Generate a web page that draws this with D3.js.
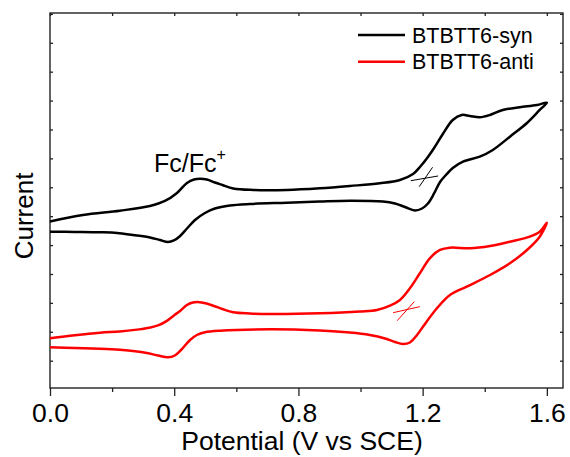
<!DOCTYPE html>
<html>
<head>
<meta charset="utf-8">
<script src="https://cdn.jsdelivr.net/npm/d3@7/dist/d3.min.js"></script>
<style>
  html, body { margin: 0; padding: 0; background: #fff; }
  svg { display: block; font-family: Arial, "Liberation Sans", sans-serif; }
</style>
</head>
<body>
<svg id="chart" width="570" height="457"></svg>
<script>
// Cyclic voltammograms: forward scan 0 -> 1.6 V, then reverse back to 0 V.
// Potential in V vs SCE, current in arbitrary (offset) units.
const synPotential = [0.000, 0.106, 0.225, 0.322, 0.370, 0.409, 0.441, 0.464, 0.483, 0.505, 0.531, 0.555, 0.590, 0.654, 0.763, 0.869, 0.966, 1.062, 1.127, 1.169, 1.194, 1.217, 1.239, 1.265, 1.297, 1.326, 1.352, 1.384, 1.417, 1.458, 1.513, 1.568, 1.600,
  1.577, 1.536, 1.481, 1.426, 1.384, 1.330, 1.297, 1.275, 1.256, 1.236, 1.217, 1.198, 1.175, 1.143, 1.111, 1.072, 0.966, 0.869, 0.763, 0.644, 0.579, 0.531, 0.499, 0.467, 0.441, 0.419, 0.399, 0.380, 0.354, 0.322, 0.267, 0.216, 0.161, 0.080, 0.000];
const synCurrent = [4.817, 5.042, 5.190, 5.353, 5.526, 5.803, 6.149, 6.270, 6.294, 6.270, 6.166, 6.080, 5.958, 5.907, 5.907, 5.965, 6.045, 6.138, 6.253, 6.460, 6.737, 7.048, 7.394, 7.844, 8.329, 8.502, 8.467, 8.422, 8.502, 8.675, 8.768, 8.848, 8.927,
  8.675, 8.225, 7.751, 7.291, 7.059, 6.886, 6.668, 6.426, 6.183, 5.768, 5.439, 5.266, 5.197, 5.318, 5.439, 5.509, 5.536, 5.509, 5.467, 5.422, 5.370, 5.266, 5.111, 4.869, 4.574, 4.315, 4.159, 4.107, 4.176, 4.263, 4.349, 4.419, 4.443, 4.455, 4.464];

const antiPotential = [0.000, 0.080, 0.161, 0.225, 0.280, 0.320, 0.350, 0.375, 0.400, 0.419, 0.441, 0.460, 0.474, 0.493, 0.526, 0.555, 0.590, 0.644, 0.708, 0.869, 0.998, 1.053, 1.095, 1.127, 1.159, 1.191, 1.223, 1.256, 1.288, 1.352, 1.417, 1.481, 1.545, 1.577, 1.600,
  1.577, 1.536, 1.481, 1.417, 1.342, 1.288, 1.246, 1.201, 1.182, 1.159, 1.136, 1.111, 1.079, 1.030, 0.966, 0.869, 0.708, 0.547, 0.499, 0.473, 0.451, 0.422, 0.402, 0.380, 0.348, 0.312, 0.274, 0.225, 0.161, 0.080, 0.000];
const antiCurrent = [0.775, 0.882, 0.969, 1.010, 1.075, 1.140, 1.230, 1.370, 1.575, 1.720, 1.927, 2.014, 2.031, 2.003, 1.903, 1.789, 1.675, 1.633, 1.616, 1.640, 1.702, 1.754, 1.903, 2.100, 2.505, 3.024, 3.543, 3.830, 3.910, 3.889, 3.969, 4.118, 4.291, 4.464, 4.775,
  4.291, 3.830, 3.370, 2.965, 2.561, 2.273, 1.813, 1.176, 0.889, 0.630, 0.578, 0.647, 0.768, 0.889, 0.976, 1.045, 1.087, 1.038, 0.983, 0.889, 0.716, 0.370, 0.180, 0.118, 0.180, 0.266, 0.329, 0.377, 0.412, 0.439, 0.464];

// Crossed tangent marks at the onset of the second oxidation (x1, y1, x2, y2)
const synMarks = [[1.162, 6.228, 1.250, 6.391], [1.189, 6.021, 1.232, 6.692]];
const antiMarks = [[1.105, 1.661, 1.191, 1.869], [1.118, 1.384, 1.173, 2.042]];

const seriesNames = ["BTBTT6-syn", "BTBTT6-anti"];
const seriesColors = ["#000000", "#ff0000"];
const xMajorTicks = [0.0, 0.4, 0.8, 1.2, 1.6];
const xMinorTicks = [0.2, 0.6, 1.0, 1.4];
const yTicks = d3.range(0, 13);

const svg = d3.select("#chart");
const plotLeft = 50, plotRight = 563, plotTop = 13, plotBottom = 388;

const x = d3.scaleLinear().domain([0, 1.652]).range([plotLeft, plotRight]);
const y = d3.scaleLinear().domain([-0.945, 12.03]).range([plotBottom, plotTop]);

const axisColor = "#222";

// Bottom axis: long major ticks with labels, short minor ticks
const gx = svg.append("g").attr("transform", `translate(0,${plotBottom})`);
gx.call(d3.axisBottom(x).tickValues(xMajorTicks).tickSize(8).tickFormat(d3.format(".1f")));
gx.append("g").call(d3.axisBottom(x).tickValues(xMinorTicks).tickSize(4).tickFormat(""));
gx.selectAll(".domain").remove();
gx.selectAll("line").attr("stroke", axisColor).attr("stroke-width", 1.3);
gx.selectAll("text")
  .attr("fill", "#000")
  .attr("font-size", 26.5)
  .attr("y", 34.3)
  .attr("dy", 0)
  .attr("font-family", "Arial, 'Liberation Sans', sans-serif");

// Top axis: inward ticks every 0.2 V
const gt = svg.append("g").attr("transform", `translate(0,${plotTop})`);
gt.call(d3.axisBottom(x).tickValues(xMajorTicks.concat(xMinorTicks)).tickSize(3).tickFormat(""));
gt.selectAll(".domain").remove();
gt.selectAll("line").attr("stroke", axisColor).attr("stroke-width", 1.3);

// Left and right axes: inward ticks, no labels
const gl = svg.append("g").attr("transform", `translate(${plotLeft},0)`);
gl.call(d3.axisRight(y).tickValues(yTicks).tickSize(3).tickFormat(""));
gl.selectAll(".domain").remove();
gl.selectAll("line").attr("stroke", axisColor).attr("stroke-width", 1.3);

const gr = svg.append("g").attr("transform", `translate(${plotRight},0)`);
gr.call(d3.axisLeft(y).tickValues(yTicks).tickSize(3).tickFormat(""));
gr.selectAll(".domain").remove();
gr.selectAll("line").attr("stroke", axisColor).attr("stroke-width", 1.3);

// Frame
svg.append("rect")
  .attr("x", plotLeft).attr("y", plotTop)
  .attr("width", plotRight - plotLeft).attr("height", plotBottom - plotTop)
  .attr("fill", "none").attr("stroke", axisColor).attr("stroke-width", 1.4);

// Curves
const line = d3.line()
  .x(d => x(d[0]))
  .y(d => y(d[1]))
  .curve(d3.curveCatmullRom.alpha(0.5));

const series = [
  { pts: d3.zip(synPotential, synCurrent), marks: synMarks },
  { pts: d3.zip(antiPotential, antiCurrent), marks: antiMarks }
];

series.forEach((s, i) => {
  svg.append("path")
    .datum(s.pts)
    .attr("d", line)
    .attr("fill", "none")
    .attr("stroke", seriesColors[i])
    .attr("stroke-width", 2.5)
    .attr("stroke-linejoin", "round");

  svg.append("g").selectAll("line")
    .data(s.marks)
    .join("line")
    .attr("x1", d => x(d[0])).attr("y1", d => y(d[1]))
    .attr("x2", d => x(d[2])).attr("y2", d => y(d[3]))
    .attr("stroke", seriesColors[i])
    .attr("stroke-width", 1);
});

// Legend
const legend = svg.append("g");
seriesNames.forEach((name, i) => {
  const ly = 35 + i * 26.7;
  legend.append("line")
    .attr("x1", 358).attr("x2", 405)
    .attr("y1", ly).attr("y2", ly)
    .attr("stroke", seriesColors[i]).attr("stroke-width", 2.5);
  legend.append("text")
    .attr("x", 412).attr("y", ly + 7.7)
    .attr("font-size", 21.5)
    .attr("fill", "#000")
    .text(name);
});

// Ferrocene reference label
const fc = svg.append("text")
  .attr("x", 154).attr("y", 172)
  .attr("font-size", 25)
  .attr("fill", "#000");
fc.append("tspan").text("Fc/Fc");
fc.append("tspan").attr("dy", -12).attr("font-size", 16).text("+");

// Axis titles
svg.append("text")
  .attr("x", 302).attr("y", 450)
  .attr("text-anchor", "middle")
  .attr("font-size", 26.5)
  .attr("fill", "#000")
  .text("Potential (V vs SCE)");

svg.append("text")
  .attr("transform", "translate(33,216) rotate(-90)")
  .attr("text-anchor", "middle")
  .attr("font-size", 26)
  .attr("fill", "#000")
  .text("Current");
</script>
</body>
</html>
